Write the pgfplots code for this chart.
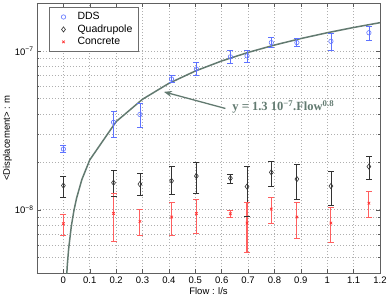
\documentclass[border=0pt]{standalone}
\usepackage{pgfplots}
\pgfplotsset{compat=1.18}
\usepackage{pgfplotstable}
\usepackage{fontspec}
\setmainfont{Liberation Sans}
\newfontfamily\serifb{Liberation Serif}
\usetikzlibrary{arrows.meta}
\definecolor{ddsblue}{RGB}{95,115,255}
\definecolor{concred}{RGB}{255,50,50}
\definecolor{concbar}{RGB}{255,95,95}
\definecolor{quadgray}{RGB}{50,50,50}
\definecolor{fitgreen}{RGB}{98,122,112}
\definecolor{gridgray}{RGB}{175,175,175}

% x, value, lower and upper end of the error bar
\pgfplotstableread{
x y lo hi
0.000 2.41e-8 2.28e-8 2.54e-8
0.190 3.55e-8 2.86e-8 4.16e-8
0.290 3.98e-8 3.32e-8 4.64e-8
0.410 6.65e-8 6.34e-8 6.98e-8
0.504 7.69e-8 6.98e-8 8.48e-8
0.633 9.17e-8 8.38e-8 1.00e-7
0.696 9.30e-8 8.48e-8 1.01e-7
0.788 1.127e-7 1.05e-7 1.22e-7
0.885 1.127e-7 1.06e-7 1.19e-7
1.014 1.148e-7 1.00e-7 1.29e-7
1.158 1.300e-7 1.17e-7 1.43e-7
}\ddstab

\pgfplotstableread{
x y lo hi
0.000 1.42e-8 1.20e-8 1.63e-8
0.190 1.48e-8 1.22e-8 1.78e-8
0.290 1.45e-8 1.23e-8 1.70e-8
0.410 1.52e-8 1.25e-8 1.87e-8
0.504 1.63e-8 1.26e-8 1.99e-8
0.633 1.58e-8 1.47e-8 1.67e-8
0.696 1.40e-8 9.10e-9 1.88e-8
0.788 1.72e-8 1.40e-8 2.03e-8
0.885 1.56e-8 1.155e-8 1.94e-8
1.014 1.41e-8 1.06e-8 1.74e-8
1.158 1.87e-8 1.56e-8 2.18e-8
}\quadtab

\pgfplotstableread{
x y lo hi
0.000 8.18e-9 6.90e-9 9.40e-9
0.190 9.48e-9 6.34e-9 1.27e-8
0.290 8.45e-9 6.88e-9 1.00e-8
0.410 9.00e-9 6.90e-9 1.117e-8
0.504 9.48e-9 7.15e-9 1.17e-8
0.633 9.44e-9 8.95e-9 9.90e-9
0.696 8.25e-9 5.37e-9 1.117e-8
0.788 1.01e-8 8.25e-9 1.20e-8
0.885 9.00e-9 6.65e-9 1.11e-8
1.014 8.25e-9 6.19e-9 1.03e-8
1.158 1.10e-8 8.95e-9 1.30e-8
}\conctab

\begin{document}
\begin{tikzpicture}
\useasboundingbox (-37pt,-27pt) rectangle (354pt,273pt);
\begin{axis}[
  at={(0,0)}, anchor=south west,
  scale only axis, width=343pt, height=270pt,
  ymode=log,
  xmin=-0.1, xmax=1.2, ymin=4e-9, ymax=2e-7,
  xtick={0,0.1,0.2,0.3,0.4,0.5,0.6,0.7,0.8,0.9,1,1.1,1.2},
  xticklabels={0,0.1,0.2,0.3,0.4,0.5,0.6,0.7,0.8,0.9,1,1.1,1.2},
  ytick={1e-8,1e-7},
  yticklabels={10\textsuperscript{−8},10\textsuperscript{−7}},
  minor ytick={4e-9,5e-9,6e-9,7e-9,8e-9,9e-9,2e-8,3e-8,4e-8,5e-8,6e-8,7e-8,8e-8,9e-8,2e-7},
  minor x tick num=0,
  grid=both,
  major grid style={dash pattern=on 0.7pt off 2.3pt, gridgray, line width=0.6pt},
  minor grid style={dash pattern=on 0.7pt off 2.3pt, gridgray, line width=0.6pt},
  tick align=inside,
  major tick length=4pt, minor tick length=2pt,
  tick style={gray!70!black, line width=0.5pt},
  axis line style={gray!75!black, line width=0.9pt},
  ticklabel style={font=\fontsize{9.5}{11}\selectfont},
  xlabel={Flow : l/s},
  ylabel={<Displacement> : m},
  label style={font=\fontsize{9.5}{11}\selectfont},
  xlabel style={yshift=3pt},
  ylabel style={yshift=-4pt},
  legend style={at={(0.035,0.985)}, anchor=north west, draw=gray!85!black, line width=1pt,
    font=\fontsize{10.5}{12}\selectfont, row sep=-0.5pt, inner xsep=4pt, inner ysep=3pt},
  legend cell align=left,
  lgimg/.style={legend image code/.code={\path[draw=none, fill=none] (0pt,-3pt) rectangle (22pt,3pt); \draw plot coordinates {(10pt,0pt)};}},
  ebar/.style={forget plot, line width=0.8pt, #1},
  ecap/.style={forget plot, only marks, mark=-, mark size=3pt, mark options={line width=0.8pt, #1}, #1},
]
\addplot[fitgreen, line width=1.5pt, forget plot] coordinates {
 (0.005,1.876e-9) (0.01,3.266e-9) (0.015,4.516e-9) (0.02,5.685e-9) (0.03,7.865e-9)
 (0.04,9.90e-9) (0.05,1.183e-8) (0.07,1.549e-8) (0.1,2.060e-8) (0.2,3.588e-8)
 (0.3,4.962e-8) (0.4,6.245e-8) (0.5,7.466e-8) (0.6,8.638e-8) (0.7,9.773e-8)
 (0.8,1.0875e-7) (0.9,1.195e-7) (1.0,1.3e-7) (1.1,1.403e-7) (1.2,1.504e-7)
};
% error bars: vertical segments as one line plot with gaps, caps as marks
\addplot[ebar=ddsblue, unbounded coords=jump] coordinates {
 (0,2.28e-8) (0,2.54e-8) (nan,nan) (0.19,2.86e-8) (0.19,4.16e-8) (nan,nan)
 (0.29,3.32e-8) (0.29,4.64e-8) (nan,nan) (0.41,6.34e-8) (0.41,6.98e-8) (nan,nan)
 (0.504,6.98e-8) (0.504,8.48e-8) (nan,nan) (0.633,8.38e-8) (0.633,1.00e-7) (nan,nan)
 (0.696,8.48e-8) (0.696,1.01e-7) (nan,nan) (0.788,1.05e-7) (0.788,1.22e-7) (nan,nan)
 (0.885,1.06e-7) (0.885,1.19e-7) (nan,nan) (1.014,1.00e-7) (1.014,1.29e-7) (nan,nan)
 (1.158,1.17e-7) (1.158,1.43e-7)
};
\addplot[ecap=ddsblue] table[x=x, y=lo]{\ddstab};
\addplot[ecap=ddsblue] table[x=x, y=hi]{\ddstab};
\addplot[ebar=quadgray, unbounded coords=jump] coordinates {
 (0,1.20e-8) (0,1.63e-8) (nan,nan) (0.19,1.22e-8) (0.19,1.78e-8) (nan,nan)
 (0.29,1.23e-8) (0.29,1.70e-8) (nan,nan) (0.41,1.25e-8) (0.41,1.87e-8) (nan,nan)
 (0.504,1.26e-8) (0.504,1.99e-8) (nan,nan) (0.633,1.47e-8) (0.633,1.67e-8) (nan,nan)
 (0.696,9.10e-9) (0.696,1.88e-8) (nan,nan) (0.788,1.40e-8) (0.788,2.03e-8) (nan,nan)
 (0.885,1.155e-8) (0.885,1.94e-8) (nan,nan) (1.014,1.06e-8) (1.014,1.74e-8) (nan,nan)
 (1.158,1.56e-8) (1.158,2.18e-8)
};
\addplot[ecap=quadgray] table[x=x, y=lo]{\quadtab};
\addplot[ecap=quadgray] table[x=x, y=hi]{\quadtab};
\addplot[ebar=concbar, line width=1.1pt, unbounded coords=jump] coordinates {
 (0,6.90e-9) (0,9.40e-9) (nan,nan) (0.19,6.34e-9) (0.19,1.27e-8) (nan,nan)
 (0.29,6.88e-9) (0.29,1.00e-8) (nan,nan) (0.41,6.90e-9) (0.41,1.117e-8) (nan,nan)
 (0.504,7.15e-9) (0.504,1.17e-8) (nan,nan) (0.633,8.95e-9) (0.633,9.90e-9) (nan,nan)
 (0.696,5.37e-9) (0.696,1.117e-8) (nan,nan) (0.788,8.25e-9) (0.788,1.20e-8) (nan,nan)
 (0.885,6.65e-9) (0.885,1.11e-8) (nan,nan) (1.014,6.19e-9) (1.014,1.03e-8) (nan,nan)
 (1.158,8.95e-9) (1.158,1.30e-8)
};
\addplot[ecap=concbar] table[x=x, y=lo]{\conctab};
\addplot[ecap=concbar] table[x=x, y=hi]{\conctab};
% data points
\addplot[only marks, lgimg, mark=o, color=ddsblue, mark size=2.2pt, line width=0.6pt]
  table[x=x, y=y]{\ddstab};
\addlegendentry{DDS}
\addplot[only marks, lgimg, mark=diamond, color=quadgray, mark size=2.6pt, line width=0.6pt]
  table[x=x, y=y]{\quadtab};
\addlegendentry{Quadrupole}
\addplot[only marks, lgimg, mark=x, color=concred, mark size=1.8pt, line width=0.7pt]
  table[x=x, y=y]{\conctab};
\addlegendentry{Concrete}
\draw[fitgreen, line width=1.3pt, -{Stealth[length=8pt,width=6pt]}]
  (axis cs:0.614,4.34e-8) -- (axis cs:0.381,5.52e-8);
\node[anchor=base west, text=fitgreen, inner sep=0pt,
  font=\serifb\bfseries\fontsize{12.5}{13}\selectfont]
  at (axis cs:0.64,4.20e-8) {y = 1.3 10\textsuperscript{−7}.Flow\textsuperscript{0.8}};
\end{axis}
\end{tikzpicture}
\end{document}
